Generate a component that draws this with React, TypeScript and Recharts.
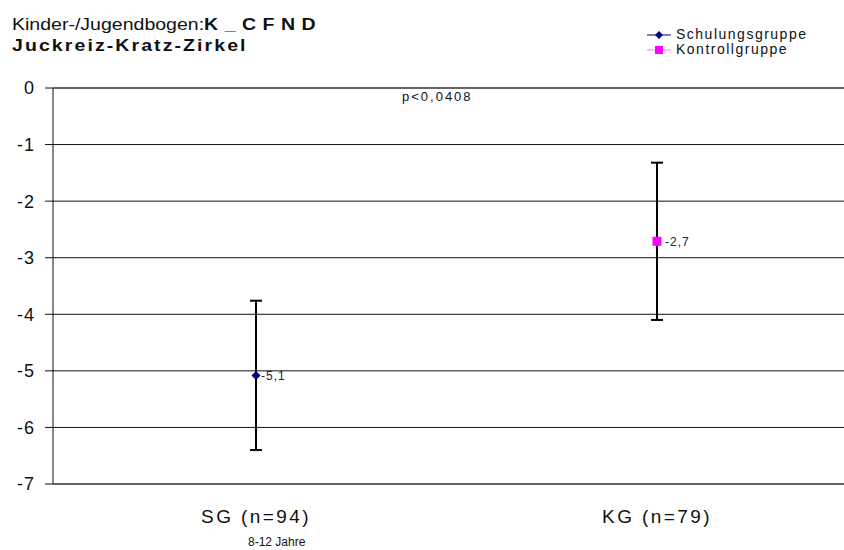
import { LineChart, Line, XAxis, YAxis, CartesianGrid, ErrorBar, LabelList, ReferenceLine } from 'recharts'

const groups = ['SG (n=94)', 'KG (n=79)']
const sgValues = [-5.08, null]
const kgValues = [null, -2.71]
const sgErrors = [1.32, null]
const kgErrors = [null, 1.39]
const yTicks = [0, -1, -2, -3, -4, -5, -6, -7]

const data = groups.map((g, i) => ({
  name: g,
  sg: sgValues[i],
  kg: kgValues[i],
  sgErr: sgErrors[i],
  kgErr: kgErrors[i],
}))

const font = '"Liberation Sans", Arial, sans-serif'

const Diamond = (props: any) => {
  const { cx, cy } = props
  if (cx == null || cy == null) return null
  return <path d={`M${cx},${cy - 4.5}L${cx + 4.5},${cy}L${cx},${cy + 4.5}L${cx - 4.5},${cy}Z`} fill="#000080" />
}

const Square = (props: any) => {
  const { cx, cy } = props
  if (cx == null || cy == null) return null
  return <rect x={cx - 4.5} y={cy - 4.5} width={9} height={9} fill="#ff00ff" />
}

const fmt = (v: any) => (v == null ? '' : Number(v).toFixed(1).replace('.', ','))

export default function App() {
  return (
    <div style={{ position: 'absolute', left: 0, top: 0, width: 844, height: 550, overflow: 'hidden', background: '#fff', fontFamily: font }}>
      <div
        style={{
          position: 'absolute',
          left: 12,
          top: 14,
          fontSize: 16,
          color: '#111',
          lineHeight: '21px',
          whiteSpace: 'nowrap',
          transform: 'scaleX(1.22)',
          transformOrigin: 'left top',
        }}
      >
        Kinder-/Jugendbogen:<b style={{ letterSpacing: 5.3 }}>K_CFND</b>
        <br />
        <b style={{ letterSpacing: 1.7 }}>Juckreiz-Kratz-Zirkel</b>
      </div>
      <div style={{ position: 'absolute', left: 647, top: 27, fontSize: 14, letterSpacing: 1.5, lineHeight: '15px', color: '#111' }}>
        <div style={{ display: 'flex', alignItems: 'center' }}>
          <svg width={24} height={10}>
            <line x1={0} y1={5} x2={24} y2={5} stroke="#000080" strokeWidth={1} />
            <path d="M12,1L16,5L12,9L8,5Z" fill="#000080" />
          </svg>
          <span style={{ marginLeft: 5 }}>Schulungsgruppe</span>
        </div>
        <div style={{ display: 'flex', alignItems: 'center' }}>
          <svg width={24} height={10}>
            <line x1={0} y1={5} x2={24} y2={5} stroke="#ff80ff" strokeWidth={1} />
            <rect x={8} y={1} width={8} height={8} fill="#ff00ff" />
          </svg>
          <span style={{ marginLeft: 5 }}>Kontrollgruppe</span>
        </div>
      </div>
      <div style={{ position: 'absolute', left: 402, top: 89, fontSize: 13, letterSpacing: 2, color: '#111' }}>p&lt;0,0408</div>
      <div style={{ position: 'absolute', left: 248, top: 535, fontSize: 12, letterSpacing: 0, color: '#111' }}>8-12 Jahre</div>
      <LineChart width={858} height={550} data={data} margin={{ top: 88, right: 2, bottom: 0, left: 0 }}>
        <CartesianGrid vertical={false} stroke="#111" strokeOpacity={1} />
        <XAxis
          dataKey="name"
          height={66}
          padding={{ left: 203, right: 199 }}
          tickLine={false}
          axisLine={{ stroke: '#666', strokeWidth: 2 }}
          tick={{ fontSize: 19, fill: '#111', fontFamily: font, letterSpacing: 2.4 }}
          tickMargin={20}
        />
        <YAxis
          type="number"
          domain={[-7, 0]}
          ticks={yTicks}
          interval={0}
          width={53}
          tickSize={8}
          tickMargin={10}
          axisLine={{ stroke: '#111' }}
          tickLine={{ stroke: '#111' }}
          tick={{ fontSize: 18, fill: '#111', fontFamily: font, letterSpacing: 1 }}
        />
        <ReferenceLine y={0} stroke="#666" strokeWidth={2} />
        <Line dataKey="sg" stroke="#000080" isAnimationActive={false} dot={<Diamond />} activeDot={false}>
          <ErrorBar dataKey="sgErr" width={6} stroke="#000" strokeWidth={2} direction="y" />
          <LabelList dataKey="sg" position="right" offset={5} formatter={fmt} style={{ fontSize: 12, fill: '#222', fontFamily: font, letterSpacing: 1 }} />
        </Line>
        <Line dataKey="kg" stroke="#ff00ff" isAnimationActive={false} dot={<Square />} activeDot={false}>
          <ErrorBar dataKey="kgErr" width={6} stroke="#000" strokeWidth={2} direction="y" />
          <LabelList dataKey="kg" position="right" offset={8} formatter={fmt} style={{ fontSize: 12, fill: '#222', fontFamily: font, letterSpacing: 1 }} />
        </Line>
      </LineChart>
    </div>
  )
}
